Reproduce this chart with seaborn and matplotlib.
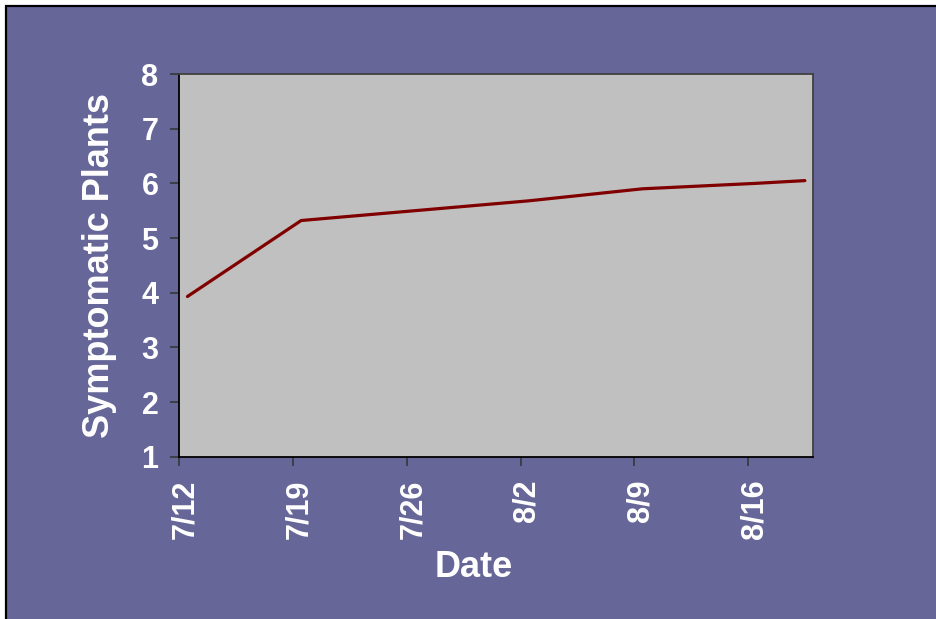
import matplotlib
matplotlib.use("Agg")
import matplotlib.pyplot as plt
import matplotlib.transforms as mtransforms
from matplotlib.patches import Rectangle
import pandas as pd
import seaborn as sns

# Survey dates and counts of plants showing symptoms
survey_dates = ["2004-07-12", "2004-07-19", "2004-07-26", "2004-08-02",
                "2004-08-09", "2004-08-16", "2004-08-19"]
symptomatic = [3.93, 5.32, 5.50, 5.68, 5.90, 6.00, 6.05]
tick_dates = ["2004-07-12", "2004-07-19", "2004-07-26", "2004-08-02",
              "2004-08-09", "2004-08-16"]
x_range = ["2004-07-12", "2004-08-20"]
y_ticks = [1, 2, 3, 4, 5, 6, 7, 8]

PURPLE = "#666699"
PLOT_GRAY = "#C0C0C0"
LINE_RED = "#800000"

sns.set_theme(style="ticks")
plt.rcParams["font.family"] = ["Liberation Sans", "DejaVu Sans"]
plt.rcParams["font.weight"] = "bold"

df = pd.DataFrame({"date": pd.to_datetime(survey_dates), "plants": symptomatic})
# each observation sits in the middle of its day slot
df["pos"] = df["date"] + pd.Timedelta(hours=12)

fig = plt.figure(figsize=(9.36, 6.19), dpi=100, facecolor="white")
fig.patches.append(Rectangle((5.5 / 936, -0.05), 1.2, 1 - 5.5 / 619 + 0.05,
                             transform=fig.transFigure, facecolor=PURPLE,
                             edgecolor="black", linewidth=1.6, zorder=-1))

ax = fig.add_axes([179.3 / 936, 1 - 456.7 / 619, (813 - 179.3) / 936, (456.7 - 74) / 619])
ax.set_facecolor(PLOT_GRAY)

sns.lineplot(data=df, x="pos", y="plants", ax=ax, color=LINE_RED,
             linewidth=2.3, legend=False)

ax.set_xlim(pd.to_datetime(x_range[0]), pd.to_datetime(x_range[1]))
ax.set_ylim(y_ticks[0], y_ticks[-1])
ax.set_yticks(y_ticks)
ticks = pd.to_datetime(tick_dates)
ax.set_xticks(ticks)
ax.set_xticklabels([f"{d.month}/{d.day}" for d in ticks], rotation=90)

ax.tick_params(axis="both", colors="#333333", length=6.5, width=1.1,
               labelcolor="white", labelsize=22)
ax.tick_params(axis="y", pad=8.5)
ax.tick_params(axis="x", pad=10)
for lab in ax.get_xticklabels() + ax.get_yticklabels():
    lab.set_fontweight("bold")

# date labels sit a few pixels right of their tick marks
shift = mtransforms.ScaledTranslation(6 / 100, 0, fig.dpi_scale_trans)
for lab in ax.get_xticklabels():
    lab.set_transform(lab.get_transform() + shift)

for side in ["left", "bottom"]:
    ax.spines[side].set_color("black")
    ax.spines[side].set_linewidth(1.3)
for side in ["top", "right"]:
    ax.spines[side].set_color("#404040")
    ax.spines[side].set_linewidth(1.3)

ax.set_xlabel("")
ax.set_ylabel("")
fig.text(100 / 936, 1 - 265 / 619, "Symptomatic Plants", rotation=90,
         ha="center", va="center", color="white", fontsize=26, fontweight="bold")
fig.text(474 / 936, 1 - 577 / 619, "Date", ha="center", va="baseline",
         color="white", fontsize=26, fontweight="bold")

fig.savefig("out.png", dpi=100, facecolor=fig.get_facecolor())
